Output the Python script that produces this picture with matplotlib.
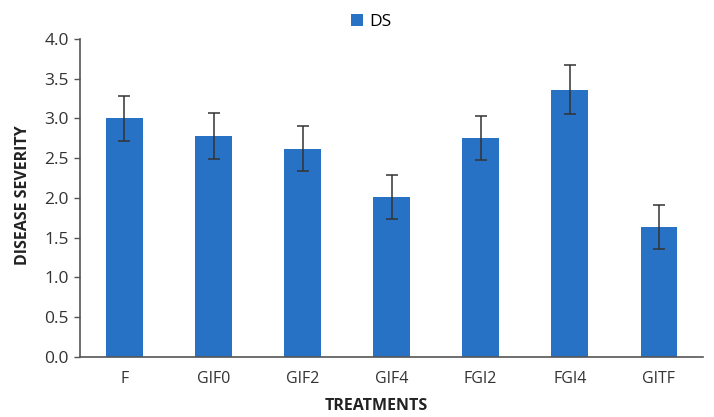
import matplotlib
matplotlib.use("Agg")
import matplotlib.pyplot as plt

categories = ["F", "GIF0", "GIF2", "GIF4", "FGI2", "FGI4", "GITF"]
ds_values = [3.00, 2.78, 2.62, 2.01, 2.75, 3.36, 1.63]
ds_errors = [0.28, 0.29, 0.28, 0.28, 0.28, 0.31, 0.28]
y_ticks = [0.0, 0.5, 1.0, 1.5, 2.0, 2.5, 3.0, 3.5, 4.0]

plt.rcParams['font.family'] = ['Open Sans', 'DejaVu Sans']

fig = plt.figure(figsize=(7.14, 4.17), dpi=100)
ax = fig.add_axes([0.112, 0.1446, 0.873, 0.762])

x = list(range(len(categories)))
bars = ax.bar(x, ds_values, width=0.41, color="#2872c6", label="DS",
              yerr=ds_errors, error_kw=dict(ecolor="#333333", elinewidth=1.1, capsize=4, capthick=1.1))

ax.set_xlim(-0.5, len(categories) - 0.5)
ax.set_ylim(0, 4.0)
ax.set_yticks(y_ticks)
ax.set_yticklabels([f"{v:.1f}" for v in y_ticks], fontsize=12.5, color="#333333")
ax.set_xticks(x)
ax.set_xticklabels(categories, fontsize=11.5, color="#333333")
ax.tick_params(axis='x', length=0, pad=10)
ax.tick_params(axis='y', length=4, width=1, color="#555555", pad=4)

for s in ["top", "right"]:
    ax.spines[s].set_visible(False)
for s in ["left", "bottom"]:
    ax.spines[s].set_color("#555555")
    ax.spines[s].set_linewidth(1.2)

ax.set_ylabel("DISEASE SEVERITY", fontsize=11.5, fontweight="bold", color="#222222")
ax.yaxis.set_label_coords(-0.078, 0.51)
ax.set_xlabel("TREATMENTS", fontsize=11.5, fontweight="bold", color="#222222")
ax.xaxis.set_label_coords(0.476, -0.13)

fig.legend(handles=[bars], labels=["DS"], loc="upper center", bbox_to_anchor=(0.52, 1.005),
           frameon=False, fontsize=12.5, handlelength=0.7, handleheight=0.7, handletextpad=0.4)

fig.savefig("out.png", dpi=100)
